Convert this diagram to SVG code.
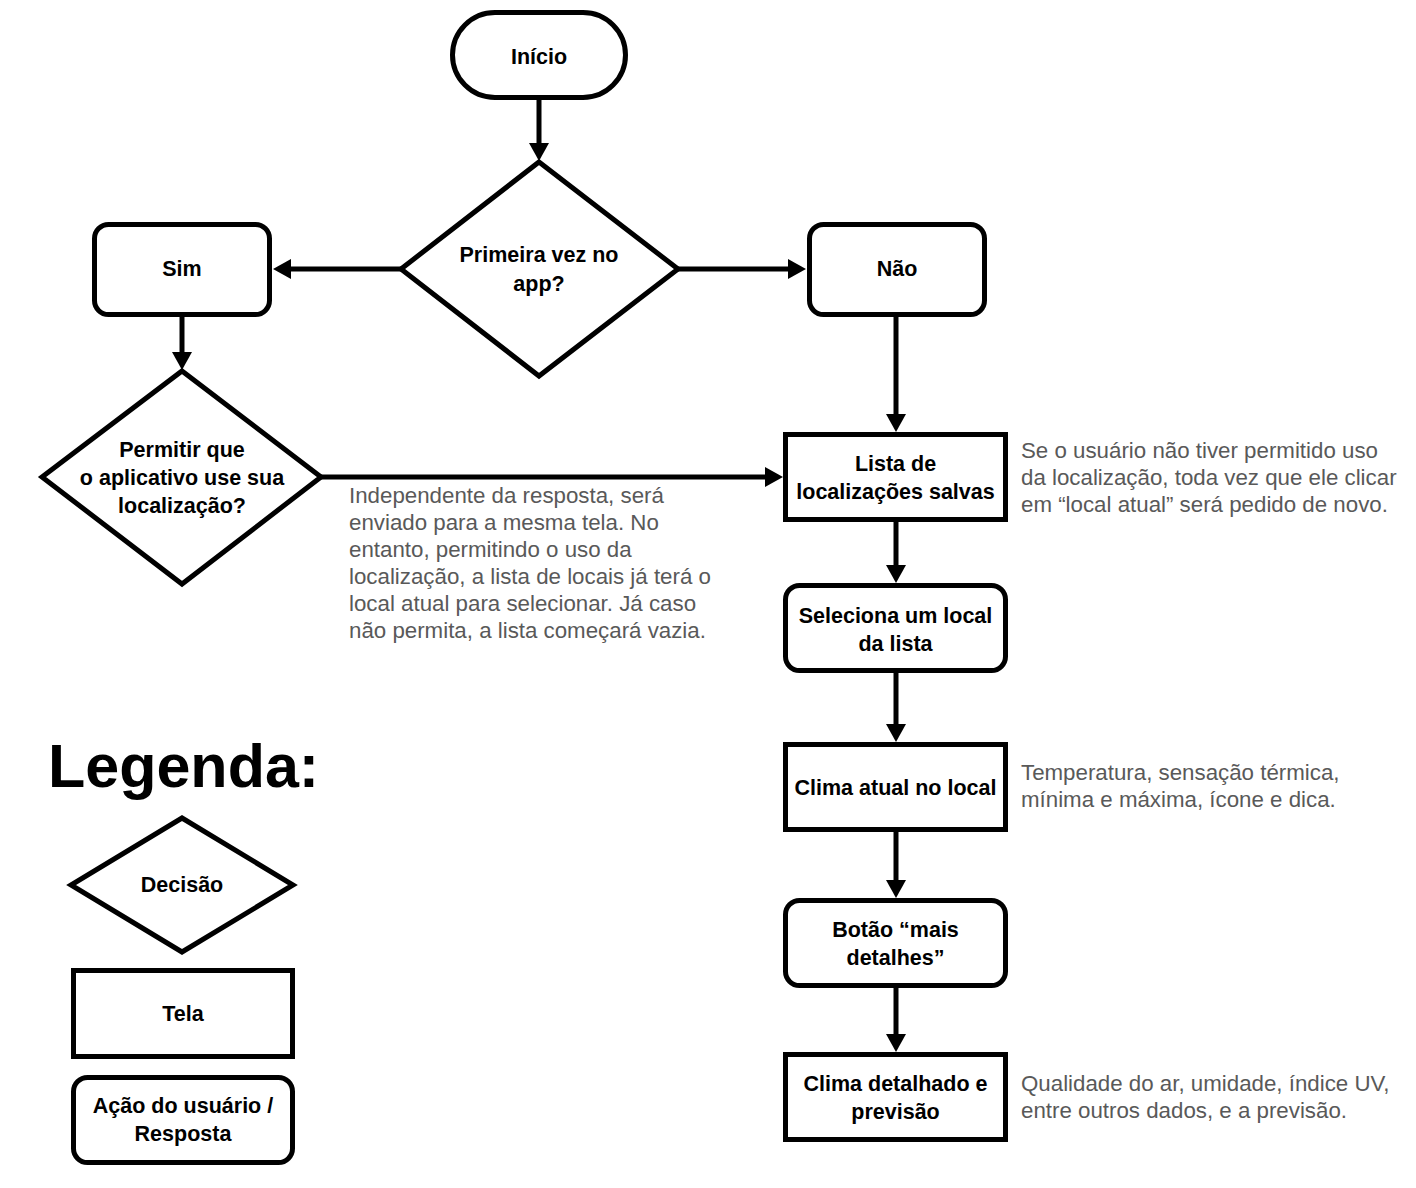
<svg xmlns="http://www.w3.org/2000/svg" width="1416" height="1188" viewBox="0 0 1416 1188">
<style>
.shape{fill:#fff;stroke:#000;stroke-width:5;stroke-linejoin:miter}
.t{font-family:"Liberation Sans",Arial,sans-serif;font-weight:bold;font-size:21.5px;fill:#000;text-anchor:middle}
.note{font-family:"Liberation Sans",Arial,sans-serif;font-size:22.3px;fill:#595959}
.edge{stroke:#000;stroke-width:5;fill:none}
</style>
<defs>
<marker id="ah" markerUnits="userSpaceOnUse" markerWidth="20" markerHeight="22" refX="2" refY="10" orient="auto" viewBox="0 0 20 20">
<path d="M0,0 L18,10 L0,20 z" fill="#000"/>
</marker>
</defs>
<rect width="1416" height="1188" fill="#fff"/>
<g id="connectors">
<line class="edge" x1="539" y1="98" x2="539" y2="145" marker-end="url(#ah)"/>
<line class="edge" x1="401" y1="269" x2="289" y2="269" marker-end="url(#ah)"/>
<line class="edge" x1="678" y1="269" x2="790" y2="269" marker-end="url(#ah)"/>
<line class="edge" x1="182" y1="315" x2="182" y2="354" marker-end="url(#ah)"/>
<line class="edge" x1="321" y1="477" x2="767" y2="477" marker-end="url(#ah)"/>
<line class="edge" x1="896" y1="314" x2="896" y2="416" marker-end="url(#ah)"/>
<line class="edge" x1="896" y1="522" x2="896" y2="567" marker-end="url(#ah)"/>
<line class="edge" x1="896" y1="673" x2="896" y2="726" marker-end="url(#ah)"/>
<line class="edge" x1="896" y1="832" x2="896" y2="882" marker-end="url(#ah)"/>
<line class="edge" x1="896" y1="988" x2="896" y2="1036" marker-end="url(#ah)"/>
</g>
<g id="inicio">
<rect class="shape" x="452.5" y="12.5" width="173" height="85" rx="42.5"/>
<text class="t" x="539" y="64">Início</text>
</g>
<g id="primeira-vez">
<polygon class="shape" points="539,162 678,269 539,376 401,269"/>
<text class="t" x="539" y="262">Primeira vez no</text>
<text class="t" x="539" y="291">app?</text>
</g>
<g id="sim">
<rect class="shape" x="94.5" y="224.5" width="175" height="90" rx="14"/>
<text class="t" x="182" y="276">Sim</text>
</g>
<g id="nao">
<rect class="shape" x="809.5" y="224.5" width="175" height="90" rx="14"/>
<text class="t" x="897" y="276">Não</text>
</g>
<g id="permitir">
<polygon class="shape" points="182,371 321,477 182,584 42,477"/>
<text class="t" x="182" y="457">Permitir que</text>
<text class="t" x="182" y="485">o aplicativo use sua</text>
<text class="t" x="182" y="513">localização?</text>
</g>
<g id="lista">
<rect class="shape" x="785.5" y="434.5" width="220" height="85"/>
<text class="t" x="895.5" y="471">Lista de</text>
<text class="t" x="895.5" y="499">localizações salvas</text>
</g>
<g id="seleciona">
<rect class="shape" x="785.5" y="585.5" width="220" height="85" rx="14"/>
<text class="t" x="895.5" y="623">Seleciona um local</text>
<text class="t" x="895.5" y="651">da lista</text>
</g>
<g id="clima-atual">
<rect class="shape" x="785.5" y="744.5" width="220" height="85"/>
<text class="t" x="895.5" y="795">Clima atual no local</text>
</g>
<g id="botao">
<rect class="shape" x="785.5" y="900.5" width="220" height="85" rx="14"/>
<text class="t" x="895.5" y="937">Botão “mais</text>
<text class="t" x="895.5" y="965">detalhes”</text>
</g>
<g id="clima-detalhado">
<rect class="shape" x="785.5" y="1054.5" width="220" height="85"/>
<text class="t" x="895.5" y="1091">Clima detalhado e</text>
<text class="t" x="895.5" y="1119">previsão</text>
</g>
<g id="notes">
<text class="note" x="349" y="503">Independente da resposta, será</text>
<text class="note" x="349" y="530">enviado para a mesma tela. No</text>
<text class="note" x="349" y="557">entanto, permitindo o uso da</text>
<text class="note" x="349" y="584">localização, a lista de locais já terá o</text>
<text class="note" x="349" y="611">local atual para selecionar. Já caso</text>
<text class="note" x="349" y="638">não permita, a lista começará vazia.</text>
<text class="note" x="1021" y="458">Se o usuário não tiver permitido uso</text>
<text class="note" x="1021" y="485">da localização, toda vez que ele clicar</text>
<text class="note" x="1021" y="512">em “local atual” será pedido de novo.</text>
<text class="note" x="1021" y="780">Temperatura, sensação térmica,</text>
<text class="note" x="1021" y="807">mínima e máxima, ícone e dica.</text>
<text class="note" x="1021" y="1091">Qualidade do ar, umidade, índice UV,</text>
<text class="note" x="1021" y="1118">entre outros dados, e a previsão.</text>
</g>
<g id="legenda">
<text x="48" y="787" font-family="Liberation Sans, Arial, sans-serif" font-weight="bold" font-size="61" fill="#000">Legenda:</text>
</g>
<g id="legend-decisao">
<polygon class="shape" points="182,818 293,885 182,952 71,885"/>
<text class="t" x="182" y="892">Decisão</text>
</g>
<g id="legend-tela">
<rect class="shape" x="73.5" y="970.5" width="219" height="86"/>
<text class="t" x="183" y="1021">Tela</text>
</g>
<g id="legend-acao">
<rect class="shape" x="73.5" y="1077.5" width="219" height="85" rx="14"/>
<text class="t" x="183" y="1113">Ação do usuário /</text>
<text class="t" x="183" y="1141">Resposta</text>
</g>
</svg>
